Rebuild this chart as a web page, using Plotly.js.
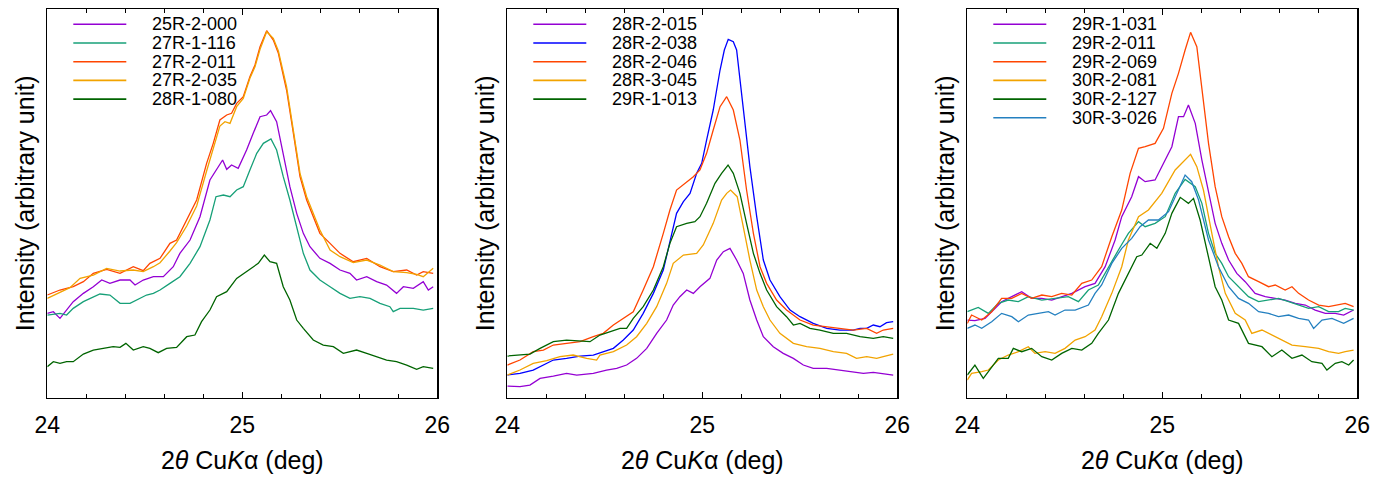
<!DOCTYPE html>
<html><head><meta charset="utf-8">
<script src="https://cdn.plot.ly/plotly-3.0.1.min.js"></script>
<style>html,body{margin:0;padding:0;background:#fff}#chart{width:1379px;height:481px}</style>
</head><body><div id="chart"></div>
<script>
// ---------------- DATA (2theta in deg, intensity in arbitrary units) ----------------
// Panel 1
const x_25R_2_000 = [24.000,24.031,24.065,24.099,24.133,24.185,24.236,24.279,24.321,24.373,24.424,24.450,24.492,24.544,24.595,24.646,24.680,24.732,24.783,24.834,24.868,24.899,24.920,24.945,24.979,25.022,25.056,25.091,25.125,25.145,25.176,25.210,25.244,25.279,25.313,25.347,25.398,25.450,25.501,25.552,25.586,25.638,25.689,25.740,25.791,25.826,25.877,25.928,25.954,25.979];
const y_25R_2_000 = [253,258,238,263,288,313,333,353,343,353,353,338,353,363,363,393,433,473,543,653,683,713,685,698,688,743,793,843,848,861,828,733,633,553,493,453,418,403,383,373,353,363,348,338,313,333,328,348,323,333];

const x_27R_1_116 = [24.000,24.065,24.099,24.133,24.185,24.236,24.270,24.321,24.373,24.424,24.475,24.509,24.544,24.578,24.629,24.680,24.732,24.783,24.834,24.865,24.903,24.937,24.971,25.005,25.039,25.074,25.108,25.147,25.176,25.210,25.244,25.279,25.313,25.347,25.398,25.450,25.501,25.552,25.603,25.655,25.706,25.757,25.774,25.809,25.877,25.928,25.979];
const y_27R_1_116 = [248,253,248,268,288,303,311,308,283,283,298,308,313,323,343,363,403,453,533,603,608,603,623,633,683,733,763,776,743,663,593,513,433,383,353,333,313,298,303,298,283,273,258,268,268,263,268];

const x_27R_2_011 = [24.000,24.065,24.133,24.185,24.236,24.304,24.373,24.441,24.492,24.526,24.578,24.629,24.663,24.715,24.766,24.817,24.851,24.885,24.920,24.945,24.971,25.005,25.039,25.065,25.091,25.125,25.159,25.185,25.227,25.262,25.296,25.330,25.364,25.398,25.450,25.501,25.569,25.638,25.706,25.774,25.843,25.894,25.928,25.979];
const y_27R_2_011 = [308,323,333,348,373,385,373,393,381,403,418,463,473,533,593,703,763,833,848,853,883,903,963,998,1053,1101,1073,1033,923,793,663,593,543,493,463,433,408,418,393,378,383,368,378,373];

const x_27R_2_035 = [24.000,24.065,24.116,24.168,24.236,24.304,24.373,24.441,24.492,24.544,24.578,24.629,24.663,24.715,24.766,24.817,24.851,24.885,24.911,24.937,24.971,25.005,25.039,25.065,25.091,25.125,25.159,25.185,25.227,25.262,25.296,25.330,25.364,25.398,25.450,25.501,25.569,25.638,25.706,25.774,25.843,25.894,25.928,25.979];
const y_27R_2_035 = [298,315,330,358,368,388,380,383,378,393,405,440,465,515,575,680,750,815,828,823,873,898,958,993,1045,1098,1078,1040,933,803,673,603,553,503,443,423,405,413,398,378,375,370,363,388];

const x_28R_1_080 = [24.000,24.031,24.065,24.099,24.133,24.185,24.236,24.287,24.338,24.373,24.403,24.441,24.492,24.526,24.569,24.612,24.663,24.715,24.757,24.791,24.834,24.868,24.920,24.971,25.022,25.056,25.082,25.113,25.142,25.176,25.210,25.244,25.279,25.313,25.364,25.415,25.467,25.518,25.586,25.638,25.689,25.740,25.791,25.843,25.894,25.928,25.979];
const y_28R_1_080 = [93,108,103,108,108,131,143,148,153,151,163,143,153,148,135,148,151,183,188,228,263,303,318,358,378,393,403,428,408,403,333,293,233,208,173,158,153,133,143,133,123,113,108,98,85,93,88];

// Panel 2
const x_28R_2_015 = [24.000,24.065,24.116,24.168,24.236,24.304,24.356,24.441,24.509,24.561,24.612,24.663,24.715,24.766,24.817,24.851,24.885,24.920,24.954,24.988,25.039,25.074,25.108,25.142,25.176,25.210,25.244,25.279,25.313,25.364,25.415,25.467,25.518,25.569,25.638,25.706,25.774,25.826,25.877,25.928,25.979];
const y_28R_2_015 = [35,33,38,58,65,73,68,73,83,88,98,118,148,193,233,278,303,323,313,333,358,413,438,448,413,373,293,233,183,153,133,118,98,88,88,83,78,73,76,73,68];

const x_28R_2_038 = [24.000,24.065,24.133,24.185,24.236,24.304,24.373,24.441,24.492,24.544,24.595,24.646,24.697,24.749,24.800,24.834,24.868,24.903,24.937,24.971,24.997,25.022,25.056,25.091,25.113,25.133,25.159,25.176,25.210,25.244,25.279,25.313,25.347,25.398,25.450,25.501,25.569,25.638,25.706,25.774,25.809,25.843,25.877,25.911,25.945,25.979];
const y_28R_2_038 = [68,73,83,98,113,118,125,128,138,148,173,203,253,313,383,473,553,588,613,673,703,773,863,983,1043,1075,1068,1043,873,693,543,413,353,303,263,243,223,208,203,203,208,208,218,213,225,228];

const x_28R_2_046 = [24.000,24.065,24.133,24.185,24.236,24.304,24.373,24.441,24.492,24.544,24.595,24.646,24.697,24.749,24.800,24.834,24.868,24.911,24.954,24.988,25.022,25.056,25.091,25.125,25.159,25.193,25.227,25.262,25.296,25.330,25.381,25.432,25.501,25.569,25.638,25.706,25.774,25.843,25.894,25.928,25.979];
const y_28R_2_046 = [98,113,138,143,158,163,168,183,193,218,238,258,323,393,493,563,623,643,663,683,733,803,873,903,863,773,623,493,393,343,293,263,233,218,213,208,203,208,193,203,208];

const x_28R_3_045 = [24.000,24.065,24.133,24.202,24.270,24.338,24.407,24.458,24.475,24.544,24.612,24.663,24.715,24.766,24.817,24.851,24.903,24.971,25.005,25.056,25.099,25.125,25.145,25.179,25.210,25.244,25.279,25.313,25.347,25.398,25.467,25.535,25.603,25.672,25.740,25.791,25.843,25.894,25.928,25.979];
const y_28R_3_045 = [68,83,103,111,123,128,118,113,128,138,158,183,223,273,343,403,428,433,458,523,593,613,623,603,513,413,323,273,233,193,163,153,148,138,133,118,123,118,123,131];

const x_29R_1_013 = [24.000,24.065,24.116,24.168,24.236,24.304,24.373,24.424,24.475,24.544,24.578,24.612,24.646,24.697,24.749,24.800,24.834,24.868,24.920,24.962,24.988,25.022,25.065,25.099,25.132,25.159,25.193,25.227,25.262,25.296,25.330,25.381,25.432,25.467,25.501,25.552,25.603,25.672,25.740,25.809,25.877,25.928,25.979];
const y_29R_1_013 = [125,128,131,148,168,173,171,168,188,203,208,208,238,273,323,393,463,513,523,528,543,583,643,673,698,673,613,523,433,373,323,273,243,218,223,208,203,193,193,183,178,183,178];

// Panel 3
const x_29R_1_031 = [24.000,24.039,24.091,24.125,24.176,24.228,24.279,24.330,24.382,24.433,24.484,24.536,24.604,24.655,24.707,24.758,24.792,24.843,24.878,24.912,24.963,24.997,25.049,25.083,25.109,25.134,25.169,25.203,25.237,25.271,25.305,25.340,25.382,25.425,25.476,25.528,25.579,25.630,25.682,25.733,25.784,25.836,25.887,25.930,25.981];
const y_29R_1_031 = [233,231,238,258,288,303,318,298,298,293,303,313,333,343,393,473,543,603,663,648,653,693,753,843,843,878,823,713,613,523,463,413,373,348,313,303,298,293,283,278,263,253,253,248,263];

const x_29R_2_011 = [24.000,24.056,24.108,24.159,24.210,24.262,24.313,24.382,24.450,24.518,24.570,24.621,24.672,24.724,24.775,24.826,24.878,24.912,24.963,25.015,25.066,25.117,25.169,25.203,25.237,25.271,25.305,25.340,25.391,25.442,25.494,25.545,25.596,25.648,25.699,25.750,25.802,25.853,25.904,25.938,25.981];
const y_29R_2_011 = [258,271,253,283,293,288,303,293,298,303,288,323,338,393,443,493,528,513,523,543,613,655,633,583,493,433,403,363,333,303,288,293,298,288,278,268,273,258,258,268,263];

const x_29R_2_069 = [24.000,24.022,24.074,24.125,24.176,24.228,24.279,24.330,24.382,24.433,24.484,24.536,24.587,24.638,24.689,24.741,24.792,24.835,24.878,24.912,24.963,25.006,25.049,25.083,25.117,25.145,25.177,25.203,25.237,25.271,25.305,25.340,25.374,25.408,25.442,25.494,25.545,25.579,25.630,25.665,25.699,25.750,25.802,25.853,25.904,25.938,25.981];
const y_29R_2_069 = [223,248,233,258,298,298,313,298,308,303,313,308,343,353,393,483,563,673,748,753,763,808,913,973,1043,1096,1053,923,763,633,543,483,433,403,363,348,333,338,323,333,313,293,278,273,278,283,273];

const x_30R_2_081 = [24.000,24.022,24.074,24.108,24.159,24.210,24.262,24.313,24.347,24.399,24.450,24.501,24.553,24.604,24.655,24.689,24.741,24.792,24.826,24.878,24.929,24.997,25.066,25.109,25.145,25.177,25.211,25.254,25.288,25.323,25.374,25.425,25.459,25.511,25.562,25.613,25.665,25.733,25.802,25.853,25.904,25.938,25.981];
const y_30R_2_081 = [53,73,78,83,113,128,138,153,133,138,133,148,173,183,203,243,313,393,473,543,563,613,683,708,730,693,623,493,393,313,253,233,193,203,188,173,158,153,148,138,133,138,143];

const x_30R_2_127 = [24.000,24.039,24.082,24.125,24.159,24.210,24.236,24.279,24.330,24.382,24.433,24.484,24.536,24.587,24.638,24.672,24.724,24.775,24.826,24.869,24.895,24.938,24.972,25.015,25.049,25.092,25.134,25.160,25.194,25.237,25.271,25.305,25.340,25.391,25.442,25.511,25.562,25.613,25.665,25.716,25.767,25.819,25.844,25.887,25.921,25.956,25.981];
const y_30R_2_127 = [68,98,58,93,118,118,148,138,148,123,113,133,148,143,163,193,233,313,373,423,428,463,448,493,553,601,583,598,533,423,333,293,233,223,163,153,123,143,118,128,108,103,83,103,108,98,113];

const x_30R_3_026 = [24.000,24.039,24.074,24.125,24.176,24.228,24.262,24.313,24.364,24.416,24.450,24.501,24.553,24.621,24.655,24.689,24.741,24.792,24.843,24.886,24.929,24.980,25.032,25.074,25.117,25.151,25.186,25.237,25.288,25.340,25.391,25.442,25.494,25.545,25.596,25.648,25.699,25.750,25.776,25.819,25.870,25.930,25.981];
const y_30R_3_026 = [208,218,208,228,253,243,228,248,253,258,248,263,263,278,313,338,403,448,478,513,533,533,558,613,668,648,593,473,393,333,298,283,258,253,243,248,238,233,208,233,238,223,238];

// Axis values
const xRange = [24, 26];
const yRange = [0, 1166];
const majorTicks = [24, 25, 26];
const tickLabels = ['24', '25', '26'];
const xTitle = '2<i>θ</i> Cu<i>K</i>α (deg)';
const yTitle = 'Intensity (arbitrary unit)';

// ---------------- STYLE ----------------
const C = {
  violet: '#9400d3', teal: '#17a078', red: '#ff4500', orange: '#f2a300',
  green: '#006400', blue: '#0000ff', steel: '#2480c0'
};

const panels = [
  [
    {name: '25R-2-000', x: x_25R_2_000, y: y_25R_2_000, c: C.violet},
    {name: '27R-1-116', x: x_27R_1_116, y: y_27R_1_116, c: C.teal},
    {name: '27R-2-011', x: x_27R_2_011, y: y_27R_2_011, c: C.red},
    {name: '27R-2-035', x: x_27R_2_035, y: y_27R_2_035, c: C.orange},
    {name: '28R-1-080', x: x_28R_1_080, y: y_28R_1_080, c: C.green}
  ],
  [
    {name: '28R-2-015', x: x_28R_2_015, y: y_28R_2_015, c: C.violet},
    {name: '28R-2-038', x: x_28R_2_038, y: y_28R_2_038, c: C.blue},
    {name: '28R-2-046', x: x_28R_2_046, y: y_28R_2_046, c: C.red},
    {name: '28R-3-045', x: x_28R_3_045, y: y_28R_3_045, c: C.orange},
    {name: '29R-1-013', x: x_29R_1_013, y: y_29R_1_013, c: C.green}
  ],
  [
    {name: '29R-1-031', x: x_29R_1_031, y: y_29R_1_031, c: C.violet},
    {name: '29R-2-011', x: x_29R_2_011, y: y_29R_2_011, c: C.teal},
    {name: '29R-2-069', x: x_29R_2_069, y: y_29R_2_069, c: C.red},
    {name: '30R-2-081', x: x_30R_2_081, y: y_30R_2_081, c: C.orange},
    {name: '30R-2-127', x: x_30R_2_127, y: y_30R_2_127, c: C.green},
    {name: '30R-3-026', x: x_30R_3_026, y: y_30R_3_026, c: C.steel}
  ]
];

const W = 1379, H = 481;
const boxL = [47.3, 507.3, 967.3];
const boxW = 390;
const boxTop = 9, boxBot = 397.7;
const FONT = 'Liberation Sans, Arial, sans-serif';

const traces = [];
const shapes = [];
const annotations = [];
const layout = {
  width: W, height: H,
  margin: {l: 0, r: 0, t: 0, b: 0},
  paper_bgcolor: '#fff', plot_bgcolor: '#fff',
  showlegend: false,
  font: {family: FONT, color: '#000', size: 24}
};

panels.forEach((series, p) => {
  const sfx = p === 0 ? '' : String(p + 1);
  const xa = 'x' + sfx, ya = 'y' + sfx;
  series.forEach(s => {
    traces.push({
      type: 'scatter', mode: 'lines', name: s.name,
      x: s.x, y: s.y, xaxis: xa, yaxis: ya,
      line: {color: s.c, width: 1.3}, hoverinfo: 'skip'
    });
  });
  layout['xaxis' + sfx] = {
    domain: [boxL[p] / W, (boxL[p] + boxW) / W],
    anchor: ya, range: xRange,
    tickmode: 'array', tickvals: majorTicks, ticktext: tickLabels,
    ticks: 'inside', ticklen: 6, tickwidth: 1, tickcolor: '#000',
    minor: {dtick: 0.2, ticks: 'inside', ticklen: 4, tickwidth: 1, tickcolor: '#000'},
    showline: true, linecolor: '#000', linewidth: 1.3, mirror: 'ticks',
    showgrid: false, zeroline: false,
    tickfont: {family: FONT, size: 23, color: '#000'},
    ticklabelstandoff: 6,
    title: {text: xTitle, font: {family: FONT, size: 25, color: '#000'}, standoff: 15}
  };
  layout['yaxis' + sfx] = {
    domain: [(H - boxBot) / H, (H - boxTop) / H],
    anchor: xa, range: yRange,
    showticklabels: false, ticks: '',
    showline: true, linecolor: '#000', linewidth: 1.3, mirror: true,
    showgrid: false, zeroline: false,
    title: {text: yTitle, font: {family: FONT, size: 25, color: '#000'}, standoff: 4}
  };
  // manual legend
  series.forEach((s, i) => {
    const py = 24.3 + 18.7 * i;
    const yp = (H - py) / H;
    shapes.push({
      type: 'line', xref: 'paper', yref: 'paper',
      x0: (boxL[p] + 26) / W, x1: (boxL[p] + 79) / W, y0: yp, y1: yp,
      line: {color: s.c, width: 1.6}
    });
    annotations.push({
      xref: 'paper', yref: 'paper', x: (boxL[p] + 103) / W, y: yp,
      xanchor: 'left', yanchor: 'middle', showarrow: false,
      text: s.name, font: {family: FONT, size: 18, color: '#000'}
    });
  });
});
layout.shapes = shapes;
layout.annotations = annotations;

Plotly.newPlot('chart', traces, layout, {displayModeBar: false, staticPlot: true});
</script>
</body></html>
